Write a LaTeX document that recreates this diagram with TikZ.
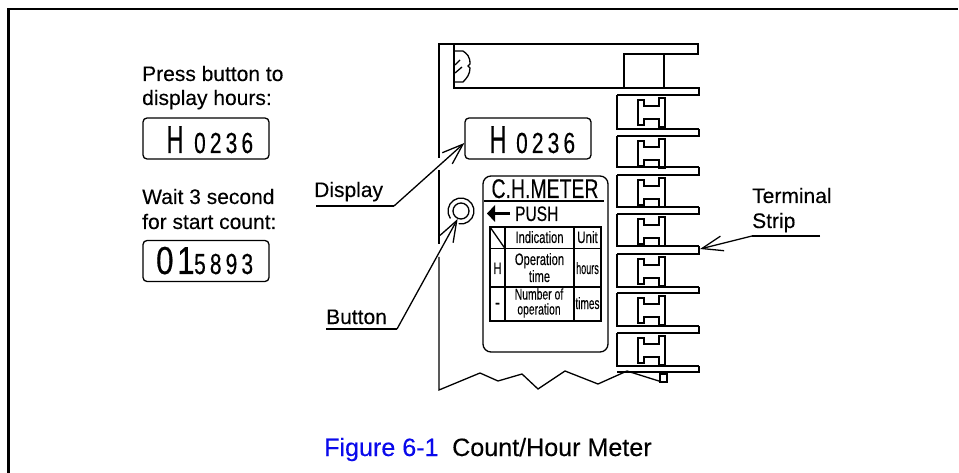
\documentclass[tikz,border=0pt]{standalone}
\usepackage{fontspec}
\setmainfont[FakeBold=0.2]{Liberation Sans}
\newfontfamily\lcdf[LetterSpace=20,FakeBold=0.5]{Liberation Sans}
\newfontfamily\lcdg[LetterSpace=12,FakeBold=0.5]{Liberation Sans}
\newfontfamily\lcdh[FakeBold=0.5]{Liberation Sans}
\usetikzlibrary{arrows.meta,calc}
\definecolor{capblue}{RGB}{10,10,235}
\newcommand{\fs}[1]{\fontsize{#1}{#1}\selectfont}
\tikzset{
  x=1pt,y=-1pt,
  ln/.style={line width=1.3pt,line join=miter},
  txt/.style={inner sep=0pt,anchor=base west,text=black,font=\fs{21}},
  plate/.style={inner sep=0pt,anchor=base,font=\fs{16.5}},
  lcdbox/.style={draw,line width=1.3pt,rounded corners=4pt,minimum width=126pt,minimum height=41pt,inner sep=0pt},
  lcdbig/.style={inner sep=0pt,anchor=base west,xscale=.6,font=\fs{39}\lcdh},
  lcdsmall/.style={inner sep=0pt,anchor=base west,xscale=.72,font=\fs{29}\lcdf},
  leader/.style={line width=1.3pt,-{Straight Barb[length=21pt,width=15pt,line width=1.3pt]}},
}
\begin{document}
\begin{tikzpicture}
\useasboundingbox (0,0) rectangle (959,473);
% frame
\draw[line width=2.2pt] (8.5,473) -- (8.5,9) -- (958,9);
% left texts
\node[txt] (t1) at (142,81) {Press button to};
\node[txt] (t2) at (142,105) {display hours:};
\node[txt] (t3) at (142,204) {Wait 3 second};
\node[txt] (t4) at (142,229) {for start count:};
% displays
\node[lcdbox] (d1) at (206,138.5) {};
\node[lcdbig] (d1h) at (166.5,153) {H};
\node[lcdsmall] (d1n) at (194,153) {0236};
\node[lcdbox] (d2) at (206,261) {};
\node[inner sep=0pt,anchor=base west,xscale=.8,font=\fs{39}\lcdg] (d2a) at (156,274) {01};
\node[lcdsmall] (d2b) at (194,274) {5893};
\node[lcdbox] (d3) at (528,138.5) {};
\node[lcdbig] (d3h) at (489.5,153) {H};
\node[lcdsmall] (d3n) at (516,153) {0236};
% housing
\draw[ln] (439,158) -- (439,44) -- (698,44) -- (698,54) -- (624,54) -- (624,88);
\draw[ln] (439,170) -- (439,244);
\draw[ln] (439,257) -- (439,390) -- (480,373) -- (498,381) -- (522,374) -- (538,389) -- (565,371) -- (598,384) -- (627,371) -- (662,382);
\draw[ln] (664,54) -- (664,88);
\draw[ln] (454,44) -- (454,88) -- (699,88) -- (699,95) -- (617,95);
\draw[ln] (660,374) -- (667,374) -- (667,382) -- (660,382) -- cycle;
% screw
\draw[ln] (455,51) -- (463,51) .. controls (467,54) and (470,56) .. (470,64) -- (468,66) -- (470,68) .. controls (470,74) and (467,78) .. (463,82) -- (455,82);
\draw[ln] (455,65) -- (460,60) (455,73) -- (462,67);
% terminals
\foreach \ytop/\ybot/\ynext in {95/129/136,136/167/175,175/207/214,214/246/254,254/287/293,293/326/333,333/366/372}{
  \draw[ln] (699,\ybot) -- (617,\ybot) -- (617,\ytop);
  \draw[ln] (699,\ybot) -- (699,\ynext) -- (617,\ynext);
  \draw[ln] (638,\ytop+5) -- (644,\ytop+5) -- (644,\ytop+11) -- (659,\ytop+11) -- (659,\ytop+3)
     -- (665,\ytop+3) -- (665,\ytop+32) -- (659,\ytop+32) -- (659,\ytop+24) -- (644,\ytop+24)
     -- (644,\ytop+30) -- (638,\ytop+30) -- cycle;
}
% button
\node[draw,circle,line width=1.3pt,minimum size=16pt,inner sep=0pt] (btn) at (461,211) {};
\draw[ln] (461,211) ++(145:13) arc[start angle=145,end angle=460,radius=13];
% plate
\draw[ln,rounded corners=8pt] (483,176) rectangle (608,352);
\node[inner sep=0pt,anchor=base,xscale=.72,font=\fs{27}] (title) at (545,198) {C.H.METER};
\draw[ln] (484,201) -- (604,201);
\draw[line width=3pt] (510,213.5) -- (492,213.5);
\fill (487,213.5) -- (495,205) -- (495,222) -- cycle;
\node[inner sep=0pt,anchor=base west,xscale=.74,font=\fs{21}] (push) at (515,221) {PUSH};
\draw[ln] (490,227) rectangle (601,321);
\draw[ln] (505,227) -- (505,321) (574,227) -- (574,321);
\draw[ln] (490,248.5) -- (601,248.5) (490,287) -- (601,287);
\draw[ln] (490,227) -- (505,248.5);
\node[plate,xscale=.68] (c1) at (539.5,243) {Indication};
\node[plate,xscale=.7] (c2) at (587.5,243) {Unit};
\node[plate,xscale=.7] (c3) at (497.5,274) {H};
\node[plate,xscale=.68] (c4) at (539.5,265) {Operation};
\node[plate,xscale=.68] (c5) at (539.5,282) {time};
\node[plate,xscale=.55] (c6) at (587.5,274) {hours};
\node[plate,xscale=.9] (c7) at (497.5,308) {-};
\node[plate,xscale=.67,font=\fs{15.5}] (c8) at (539,299.5) {Number of};
\node[plate,xscale=.67,font=\fs{15.5}] (c9) at (539,314.5) {operation};
\node[plate,xscale=.61] (c10) at (587.5,309) {times};
% labels and leaders
\node[txt] (lDisplay) at (314,197) {Display};
\coordinate (eDisplayA) at (316,206);
\coordinate (eDisplayB) at (394,206);
\draw[ln] (eDisplayA) -- (eDisplayB);
\draw[leader] (eDisplayB) -- ($(d3.west)+(0,4.5)$);
\node[txt] (lButton) at (326,324) {Button};
\coordinate (eButtonA) at (326,329);
\coordinate (eButtonB) at (397,329);
\draw[ln] (eButtonA) -- (eButtonB);
\draw[leader] (eButtonB) -- (btn.247);
\node[txt] (lTerm) at (752,203) {Terminal};
\node[txt] (lStrip) at (752,228) {Strip};
\coordinate (eTermA) at (820,236);
\coordinate (eTermB) at (752,236);
\coordinate (eTermTip) at (700,249);
\draw[ln] (eTermA) -- (eTermB);
\draw[leader] (eTermB) -- (eTermTip);
% caption
\node[txt,text=capblue,font=\fs{25.1}] (capA) at (324,456) {Figure 6-1};
\node[txt,font=\fs{25.1}] (capB) at (452,456) {Count/Hour Meter};
\end{tikzpicture}
\end{document}
